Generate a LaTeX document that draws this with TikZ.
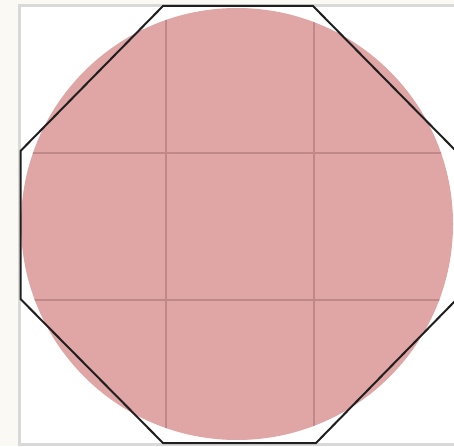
\documentclass[tikz,border=0pt]{standalone}
\begin{document}
\begin{tikzpicture}[x=1pt,y=-1pt,
  frame/.style={draw=black!15,line width=3pt,fill=white},
  disc/.style={fill=pinkfill},
  gridline/.style={draw=gridcol,line width=2.2pt},
  octo/.style={draw=black!88,line width=2pt,line join=miter}]
\definecolor{pinkfill}{HTML}{E0A5A5}
\definecolor{gridcol}{HTML}{C08989}
\definecolor{bgcol}{HTML}{FAF9F4}
\useasboundingbox (0,0) rectangle (454,446);
\fill[bgcol] (0,0) rectangle (454,446);
\draw[frame] (19.5,5.5) rectangle (470,444.5);
\coordinate (c) at (237,224);
\fill[disc] (c) circle[radius=216];
\begin{scope}
  \clip (c) circle[radius=216];
  \draw[gridline] (166,0) -- (166,446);
  \draw[gridline] (314,0) -- (314,446);
  \draw[gridline] (0,153) -- (454,153);
  \draw[gridline] (0,300) -- (454,300);
\end{scope}
\coordinate (v1) at (163,6);
\coordinate (v2) at (313,6);
\coordinate (v3) at (455,150);
\coordinate (v4) at (455,301);
\coordinate (v5) at (316,443);
\coordinate (v6) at (163,443);
\coordinate (v7) at (20.5,299);
\coordinate (v8) at (20.5,151);
\draw[octo] (v1) -- (v2) -- (v3) -- (v4) -- (v5) -- (v6) -- (v7) -- (v8) -- cycle;
\end{tikzpicture}
\end{document}
